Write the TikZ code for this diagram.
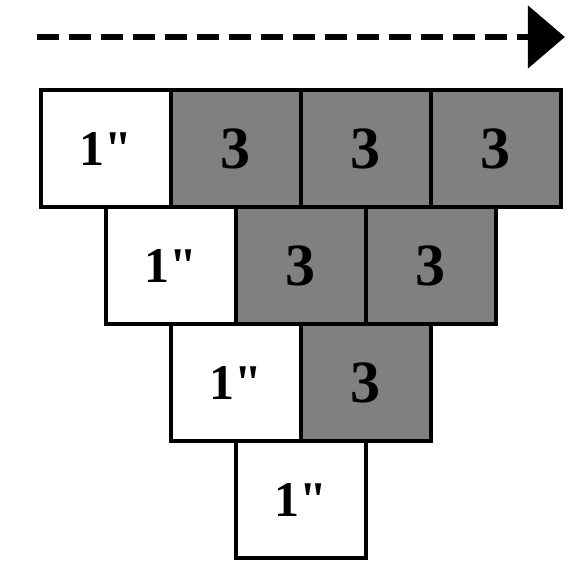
\documentclass[tikz,border=0pt]{standalone}
\usepackage{fontspec}
\setmainfont{Liberation Serif}
\usepackage{tikz}
\usetikzlibrary{arrows.meta}
\definecolor{cellgray}{HTML}{808080}

\tikzset{
    cell/.style={draw, line width=2pt, minimum width=65pt, minimum height=58.5pt,
        inner sep=0pt, font=\bfseries\fontsize{25}{25}\selectfont},
    oldcell/.style={cell, fill=white},
    newcell/.style={cell, fill=cellgray, font=\bfseries\fontsize{30}{30}\selectfont},
}

\begin{document}
\begin{tikzpicture}[x=32.5pt, y=-58.5pt]
    \useasboundingbox (0, 0) rectangle (8.9077, 5);

    % arrow on top
    \coordinate (start) at (0.57, 0.316);
    \coordinate (end) at (8.69, 0.316);
    \draw[line width=2.75pt, dash pattern=on 11pt off 5pt,
          -{Triangle[length=18.5pt, width=31pt]}]
        (start) -- (end)
    ;

    % first row
    \node[oldcell] (a1) at (1.63, 1.27) {1\textquotedbl};
    \node[newcell] (a2) at (3.63, 1.27) {3};
    \node[newcell] (a3) at (5.63, 1.27) {3};
    \node[newcell] (a4) at (7.63, 1.27) {3};

    % second row
    \node[oldcell] (b1) at (2.63, 2.27) {1\textquotedbl};
    \node[newcell] (b2) at (4.63, 2.27) {3};
    \node[newcell] (b3) at (6.63, 2.27) {3};

    % third row
    \node[oldcell] (c1) at (3.63, 3.27) {1\textquotedbl};
    \node[newcell] (c2) at (5.63, 3.27) {3};

    % last row
    \node[oldcell] (d1) at (4.63, 4.27) {1\textquotedbl};
\end{tikzpicture}
\end{document}
